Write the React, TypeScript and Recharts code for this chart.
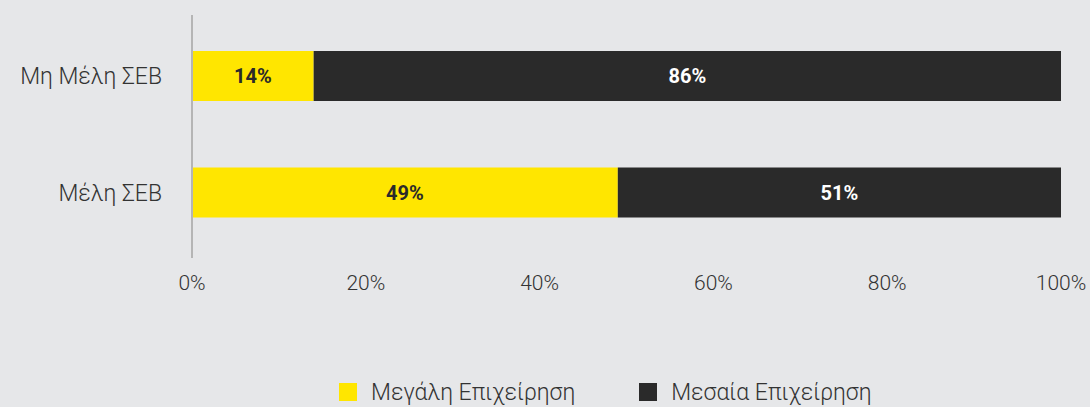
import React from 'react';
import { BarChart, Bar, XAxis, YAxis, Legend, LabelList } from 'recharts';

document.body.style.margin = '0';

const categories = ['Μη Μέλη ΣΕΒ', 'Μέλη ΣΕΒ'];
const largeValues = [14, 49];
const mediumValues = [86, 51];
const xTicks = [0, 20, 40, 60, 80, 100];

const seriesNames = { large: 'Μεγάλη Επιχείρηση', medium: 'Μεσαία Επιχείρηση' };
const colors = { large: '#FFE600', medium: '#2A2A2A' };

const data = categories.map((name, i) => ({
  name,
  large: largeValues[i],
  medium: mediumValues[i],
}));

const font = 'Roboto, "Noto Sans", sans-serif';

const renderLegend = (props: any) => {
  const { payload } = props;
  return (
    <div style={{ display: 'flex', alignItems: 'center', height: 24, fontFamily: font, fontWeight: 300, fontSize: 23, color: '#333' }}>
      {payload.map((entry: any, index: number) => (
        <div key={`legend-${index}`} style={{ display: 'flex', alignItems: 'center', marginRight: 64 }}>
          <div style={{ width: 18, height: 18, backgroundColor: entry.color, marginRight: 14 }} />
          <span>{entry.value}</span>
        </div>
      ))}
    </div>
  );
};

const App: React.FC = () => {
  return (
    <div style={{ width: 1090, height: 407, backgroundColor: '#E6E7E9' }}>
      <BarChart
        width={1090}
        height={407}
        data={data}
        layout="vertical"
        margin={{ top: 15, right: 29, bottom: 95, left: 0 }}
        barSize={50}
      >
        <XAxis
          type="number"
          domain={[0, 100]}
          ticks={xTicks}
          tickFormatter={(v: number) => `${v}%`}
          axisLine={false}
          tickLine={false}
          height={30}
          tickMargin={11}
          tick={{ fill: '#333', fontSize: 21, fontWeight: 300, fontFamily: font }}
          interval={0}
        />
        <YAxis
          type="category"
          dataKey="name"
          width={192}
          padding={{ top: 3, bottom: 7 }}
          axisLine={{ stroke: '#B5B5B5', strokeWidth: 2 }}
          tickLine={false}
          tickMargin={24}
          tick={{ fill: '#333', fontSize: 23, fontWeight: 300, fontFamily: font }}
        />
        <Legend
          content={renderLegend}
          height={24}
          wrapperStyle={{ top: 380, left: 339, width: 'auto', height: 24 }}
        />
        <Bar dataKey="large" name={seriesNames.large} stackId="a" fill={colors.large} isAnimationActive={false}>
          <LabelList
            dataKey="large"
            position="center"
            formatter={(v: any) => `${v}%`}
            style={{ fill: '#2A2A2A', fontSize: 20, fontWeight: 700, fontFamily: font }}
          />
        </Bar>
        <Bar dataKey="medium" name={seriesNames.medium} stackId="a" fill={colors.medium} isAnimationActive={false}>
          <LabelList
            dataKey="medium"
            position="center"
            formatter={(v: any) => `${v}%`}
            style={{ fill: '#FFFFFF', fontSize: 20, fontWeight: 700, fontFamily: font }}
          />
        </Bar>
      </BarChart>
    </div>
  );
};

export default App;
